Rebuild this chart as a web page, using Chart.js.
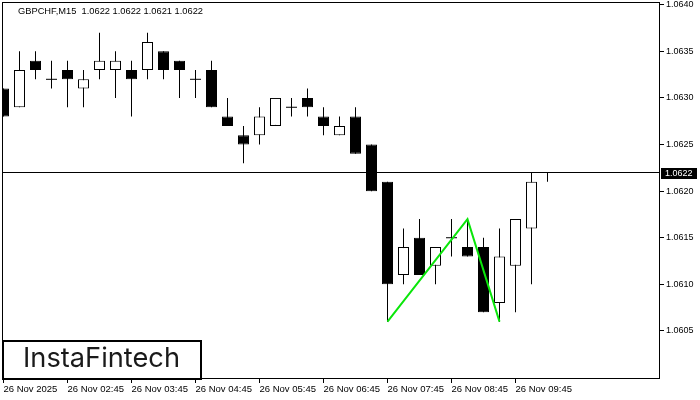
<!DOCTYPE html>
<html>
<head>
<meta charset="utf-8">
<script src="https://cdn.jsdelivr.net/npm/chart.js@4.4.1/dist/chart.umd.min.js"></script>
<style>
  html, body { margin: 0; padding: 0; background: #fff; }
  canvas { display: block; }
</style>
</head>
<body>
<canvas id="chartGbpchf" width="700" height="400"></canvas>
<script>
// === DONNEES ===
const titreSymbole = 'GBPCHF,M15';
const titreOHLC = ['1.0622', '1.0622', '1.0621', '1.0622'];

const ouvertures = [1.0631, 1.0629, 1.0634, 1.0632, 1.0633, 1.0631, 1.0633, 1.0633, 1.0633, 1.0633,
  1.0635, 1.0634, 1.0632, 1.0633, 1.0628, 1.0626, 1.0626, 1.0627, 1.0629, 1.0630,
  1.0628, 1.0626, 1.0628, 1.0625, 1.0621, 1.0611, 1.0615, 1.0612, 1.0615, 1.0614,
  1.0614, 1.0608, 1.0612, 1.0616, 1.0622];
const hauts = [1.0631, 1.0635, 1.0635, 1.0634, 1.0634, 1.0633, 1.0637, 1.0635, 1.0634, 1.0637,
  1.0635, 1.0634, 1.0633, 1.0634, 1.0630, 1.0627, 1.0629, 1.0630, 1.0630, 1.0631,
  1.0629, 1.0628, 1.0629, 1.0625, 1.0621, 1.0616, 1.0617, 1.0614, 1.0617, 1.0617,
  1.0615, 1.0616, 1.0617, 1.0622, 1.0622];
const bas = [1.0628, 1.0629, 1.0632, 1.0631, 1.0629, 1.0629, 1.0632, 1.0630, 1.0628, 1.0632,
  1.0632, 1.0630, 1.0630, 1.0629, 1.0627, 1.0623, 1.0625, 1.0627, 1.0628, 1.0628,
  1.0626, 1.0626, 1.0624, 1.0620, 1.0606, 1.0610, 1.0611, 1.0610, 1.0613, 1.0613,
  1.0607, 1.0606, 1.0607, 1.0610, 1.0621];
const clotures = [1.0628, 1.0633, 1.0633, 1.0632, 1.0632, 1.0632, 1.0634, 1.0634, 1.0632, 1.0636,
  1.0633, 1.0633, 1.0632, 1.0629, 1.0627, 1.0625, 1.0628, 1.0630, 1.0629, 1.0629,
  1.0627, 1.0627, 1.0624, 1.0620, 1.0610, 1.0614, 1.0611, 1.0614, 1.0615, 1.0613,
  1.0607, 1.0613, 1.0617, 1.0621, 1.0622];

const prixActuel = 1.0622;

// Motif (double creux) en vert
const motifIndex = [24, 29, 31];
const motifPrix = [1.0606, 1.0617, 1.0606];

// Axes
const xTicksIndex = [0, 4, 8, 12, 16, 20, 24, 28, 32];
const xTicksLabels = ['26 Nov 2025', '26 Nov 02:45', '26 Nov 03:45', '26 Nov 04:45', '26 Nov 05:45',
  '26 Nov 06:45', '26 Nov 07:45', '26 Nov 08:45', '26 Nov 09:45'];
const yTicks = [1.0605, 1.0610, 1.0615, 1.0620, 1.0625, 1.0630, 1.0635, 1.0640];

// === PREPARATION ===
const indices = ouvertures.map((_, i) => i);
const donneesMeches = indices.map(i => ({ x: i, y: [bas[i], hauts[i]] }));
const corpsIdx = indices.filter(i => ouvertures[i] !== clotures[i]);
const donneesCorps = corpsIdx.map(i => ({ x: i, y: [ouvertures[i], clotures[i]] }));
const couleursCorps = corpsIdx.map(i => clotures[i] > ouvertures[i] ? '#ffffff' : '#000000');
const dojiIdx = indices.filter(i => ouvertures[i] === clotures[i]);
const donneesDoji = dojiIdx.map(i => ({ x: i, y: clotures[i] }));
const donneesMotif = motifIndex.map((x, k) => ({ x: x, y: motifPrix[k] }));

const police = "'Liberation Sans', Arial, sans-serif";

// Cadre, ligne de prix, titre et logo
const cadreMT4 = {
  id: 'cadreMT4',
  beforeDatasetsDraw(chart) {
    const { ctx, chartArea: ca, scales } = chart;
    const y = scales.y.getPixelForValue(prixActuel);
    ctx.save();
    ctx.strokeStyle = '#000';
    ctx.lineWidth = 1;
    ctx.beginPath();
    ctx.moveTo(ca.left, y);
    ctx.lineTo(ca.right, y);
    ctx.stroke();
    ctx.restore();
  },
  afterDraw(chart) {
    const { ctx, chartArea: ca, scales } = chart;
    ctx.save();

    // cadre
    ctx.strokeStyle = '#000';
    ctx.lineWidth = 1;
    ctx.strokeRect(ca.left + 0.5, ca.top + 0.5, ca.right - ca.left - 1, ca.bottom - ca.top - 1);

    // titre
    ctx.fillStyle = '#000';
    ctx.font = '9.3px ' + police;
    ctx.textBaseline = 'middle';
    ctx.textAlign = 'left';
    ctx.fillText(titreSymbole + '  ' + titreOHLC.join(' '), 18, 11);

    // étiquette du prix actuel
    const y = Math.round(scales.y.getPixelForValue(prixActuel));
    ctx.fillStyle = '#000';
    ctx.fillRect(ca.right + 1, y - 5, 36, 11);
    ctx.fillStyle = '#fff';
    ctx.font = '9px ' + police;
    ctx.fillText(prixActuel.toFixed(4), ca.right + 5, y + 0.5);

    // logo
    ctx.fillStyle = '#fff';
    ctx.fillRect(3, 341, 198, 38);
    ctx.lineWidth = 2;
    ctx.strokeRect(3, 341, 198, 38);
    let taille = 22;
    ctx.font = taille + 'px Inter, sans-serif';
    const largeur = ctx.measureText('InstaFintech').width;
    taille = taille * 157 / largeur;
    ctx.font = taille.toFixed(2) + 'px Inter, sans-serif';
    ctx.fillStyle = '#1a1a1a';
    ctx.textAlign = 'center';
    ctx.textBaseline = 'alphabetic';
    ctx.fillText('InstaFintech', 101.5, 367);

    ctx.restore();
  }
};

new Chart(document.getElementById('chartGbpchf'), {
  type: 'bar',
  data: {
    datasets: [
      {
        label: 'meches',
        data: donneesMeches,
        backgroundColor: '#000',
        borderWidth: 0,
        barThickness: 1,
        grouped: false,
        inflateAmount: 0,
        order: 4
      },
      {
        label: 'corps',
        data: donneesCorps,
        backgroundColor: couleursCorps,
        borderColor: '#000',
        borderWidth: 1,
        borderSkipped: false,
        barThickness: 11,
        grouped: false,
        inflateAmount: 0,
        order: 3
      },
      {
        type: 'line',
        label: 'doji',
        data: donneesDoji,
        showLine: false,
        pointStyle: 'line',
        pointRadius: 5.5,
        pointBorderWidth: 1,
        pointBorderColor: '#000',
        order: 2
      },
      {
        type: 'line',
        label: 'motif',
        data: donneesMotif,
        borderColor: '#0ae60a',
        borderWidth: 2,
        pointRadius: 0,
        tension: 0,
        order: 1
      }
    ]
  },
  options: {
    responsive: false,
    animation: false,
    devicePixelRatio: 1,
    layout: { autoPadding: false, padding: { left: 2, top: 2, right: 0, bottom: 0 } },
    plugins: {
      legend: { display: false },
      tooltip: { enabled: false },
      title: { display: false }
    },
    scales: {
      x: {
        type: 'linear',
        offset: false,
        min: -0.09375,
        max: -0.09375 + 658 / 16,
        afterBuildTicks: axis => { axis.ticks = xTicksIndex.map(v => ({ value: v })); },
        afterFit: axis => {
          axis.height = 21;
          axis.paddingLeft = 0;
          axis.paddingRight = 0;
        },
        ticks: {
          align: 'start',
          autoSkip: false,
          maxRotation: 0,
          padding: 1,
          color: '#000',
          font: { family: police, size: 9.5 },
          callback: (value, index) => xTicksLabels[index]
        },
        grid: { offset: false, drawOnChartArea: false, drawTicks: true, tickLength: 4, color: '#000' },
        border: { display: false }
      },
      y: {
        position: 'right',
        beginAtZero: false,
        min: 1.0599844,
        max: 1.0640294,
        afterBuildTicks: axis => { axis.ticks = yTicks.map(v => ({ value: v })); },
        afterFit: axis => {
          axis.width = 40;
          axis.paddingTop = 0;
          axis.paddingBottom = 0;
        },
        ticks: {
          padding: 2,
          color: '#000',
          font: { family: police, size: 9 },
          callback: value => Number(value).toFixed(4)
        },
        grid: { drawOnChartArea: false, drawTicks: true, tickLength: 4, color: '#000' },
        border: { display: false }
      }
    }
  },
  plugins: [cadreMT4]
});
</script>
</body>
</html>
